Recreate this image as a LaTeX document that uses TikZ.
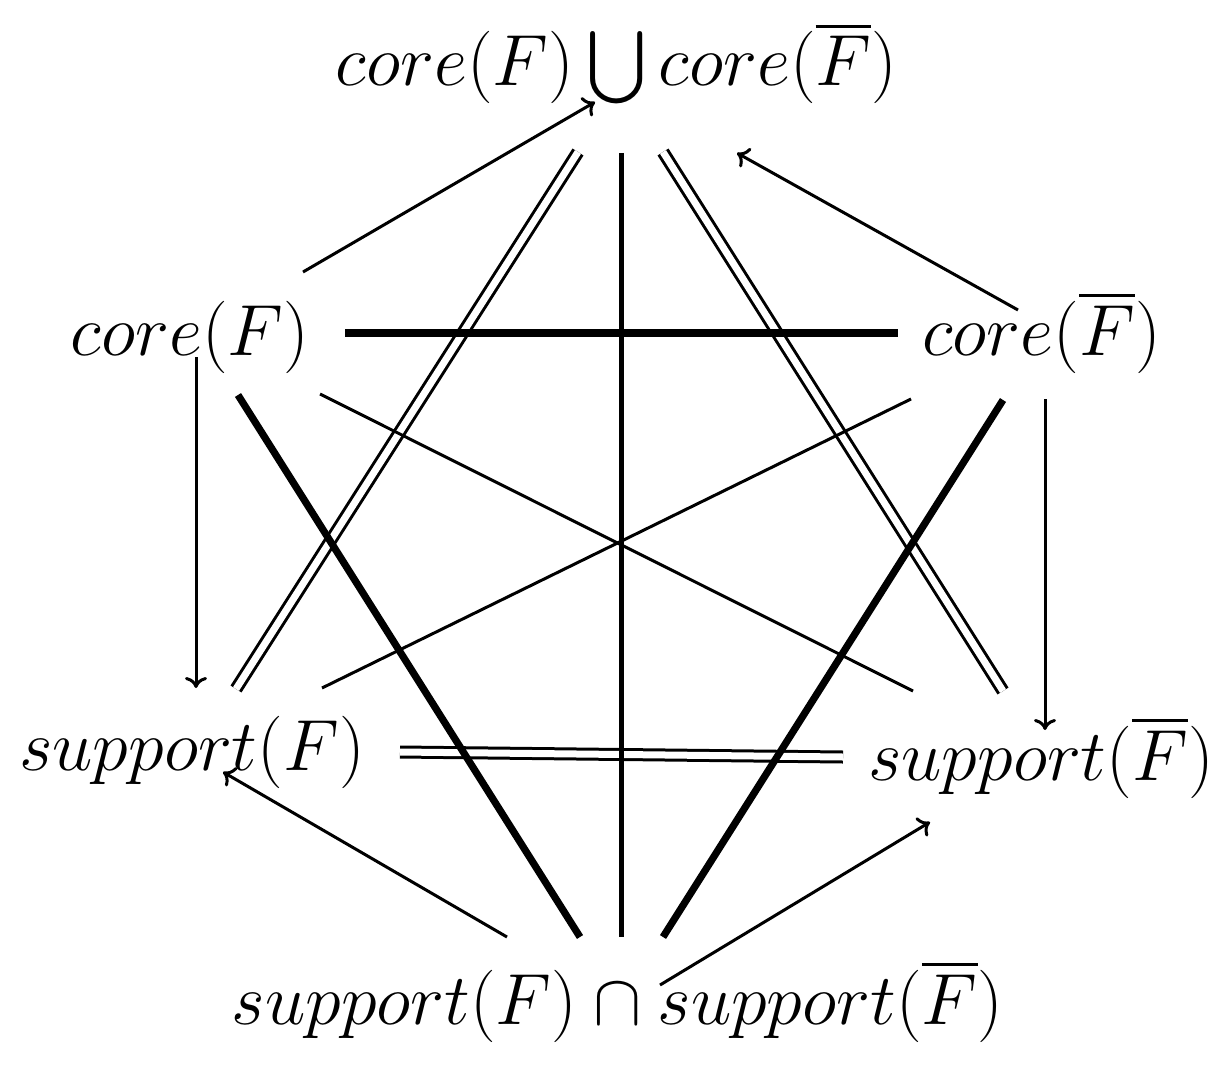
\documentclass[tikz,border=0pt]{standalone}
\usepackage{fix-cm}
\usepackage{exscale}
\DeclareFontFamily{OMX}{cmex}{}
\DeclareFontShape{OMX}{cmex}{m}{n}{<-> cmex10}{}
\usetikzlibrary{arrows.meta}
\begin{document}
\begin{tikzpicture}[x=0.5pt,y=-0.5pt,
  lab/.style={inner sep=0pt,anchor=base,font=\fontsize{36.2}{43}\selectfont},
  thinln/.style={line width=1.5pt},
  arr/.style={line width=1.5pt,-{To[length=5.5pt,width=11pt]}},
  midln/.style={line width=2.5pt},
  thickln/.style={line width=3.6pt},
  dbl/.style={double,line width=1.5pt,double distance=3.5pt}]
\useasboundingbox (0,0) rectangle (1229,1069);
\node[lab] (T)  at (616.5,86)  {$core(F)\bigcup core(\overline{F})$};
\node[lab] (L1) at (190,355)   {$core(F)$};
\node[lab] (R1) at (1041.5,355){$core(\overline{F})$};
\node[lab] (L2) at (192,770)   {$support(F)$};
\node[lab] (R2) at (1041,780)  {$support(\overline{F})$};
\node[lab] (B)  at (617.5,1024){$support(F)\cap support(\overline{F})$};
% arrows
\draw[arr] ([shift={(113,-83)}]L1.base) -- ([shift={(-21.5,16)}]T.base);
\draw[arr] ([shift={(-23.5,-45)}]R1.base) -- ([shift={(120.5,67)}]T.base);
\draw[arr] ([shift={(6,2)}]L1.base) -- ([shift={(4,-82)}]L2.base);
\draw[arr] ([shift={(3.5,44)}]R1.base) -- ([shift={(4,-50)}]R2.base);
\draw[arr] ([shift={(-110.5,-87)}]B.base) -- ([shift={(31,2)}]L2.base);
\draw[arr] ([shift={(42.5,-39)}]B.base) -- ([shift={(-111,42)}]R2.base);
% double lines
\draw[dbl] ([shift={(-38.5,66)}]T.base) -- ([shift={(44,-81)}]L2.base);
\draw[dbl] ([shift={(46.5,66)}]T.base) -- ([shift={(-38,-89)}]R2.base);
\draw[dbl] ([shift={(208,-18)}]L2.base) -- ([shift={(-198,-23)}]R2.base);
% vertical
\draw[midln] ([shift={(4.5,67)}]T.base) -- ([shift={(3.5,-87)}]B.base);
% thick
\draw[thickln] ([shift={(155,-22)}]L1.base) -- ([shift={(-143.5,-22)}]R1.base);
\draw[thickln] ([shift={(48,40)}]L1.base) -- ([shift={(-37.5,-87)}]B.base);
\draw[thickln] ([shift={(-38.5,45)}]R1.base) -- ([shift={(45.5,-87)}]B.base);
% thin crossing
\draw[thinln] ([shift={(130,39)}]L1.base) -- ([shift={(-128,-89)}]R2.base);
\draw[thinln] ([shift={(-130.5,44)}]R1.base) -- ([shift={(130,-82)}]L2.base);
\end{tikzpicture}
\end{document}
